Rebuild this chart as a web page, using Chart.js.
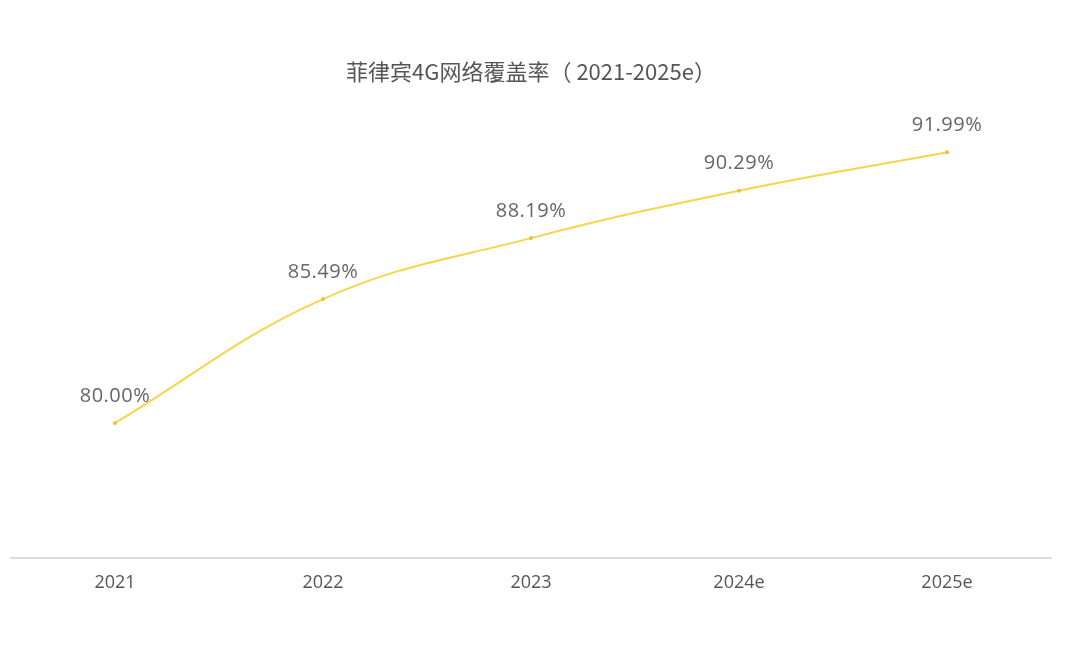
<!DOCTYPE html>
<html>
<head>
<meta charset="utf-8">
<script src="https://cdn.jsdelivr.net/npm/chart.js@4/dist/chart.umd.min.js"></script>
<style>
  html, body { margin: 0; padding: 0; background: #fff; }
  #wrap { width: 1080px; height: 652px; position: relative; }
</style>
</head>
<body>
<div id="wrap"><canvas id="c"></canvas></div>
<script>
const years = ['2021', '2022', '2023', '2024e', '2025e'];
const coverage = [80.00, 85.49, 88.19, 90.29, 91.99];

const FONT = '"Open Sans", "Noto Sans CJK SC", sans-serif';
const TITLE_FONT = '"Noto Sans CJK SC", "Open Sans", sans-serif';

// percentage labels above each point
const valueLabels = {
  id: 'valueLabels',
  afterDatasetsDraw(chart) {
    const ctx = chart.ctx;
    const meta = chart.getDatasetMeta(0);
    ctx.save();
    ctx.font = '20px ' + FONT;
    ctx.letterSpacing = '0.5px';
    ctx.fillStyle = '#666';
    ctx.textAlign = 'center';
    ctx.textBaseline = 'middle';
    meta.data.forEach((pt, i) => {
      ctx.fillText(coverage[i].toFixed(2) + '%', pt.x, pt.y - 27);
    });
    ctx.restore();
  }
};

new Chart(document.getElementById('c'), {
  type: 'line',
  data: {
    labels: years,
    datasets: [{
      data: coverage,
      borderColor: '#f6d54a',
      borderWidth: 2,
      backgroundColor: '#e8c23a',
      pointRadius: 2,
      pointBorderWidth: 0,
      tension: 0.4,
      fill: false,
      clip: false,
    }],
  },
  options: {
    responsive: true,
    maintainAspectRatio: false,
    animation: false,
    layout: { padding: { left: 11, right: 29, top: 0, bottom: 44 } },
    plugins: {
      legend: { display: false },
      tooltip: { enabled: false },
      title: {
        display: true,
        text: '菲律宾4G网络覆盖率（ 2021-2025e）',
        color: '#555',
        font: { family: TITLE_FONT, size: 22, weight: 'normal' },
        padding: { top: 58, bottom: 0 },
      },
    },
    scales: {
      x: {
        offset: true,
        grid: { display: false, drawTicks: false },
        border: { display: true, color: '#dcdcdc', width: 2 },
        ticks: {
          color: '#555',
          padding: 14,
          font: { family: FONT, size: 18 },
        },
      },
      y: {
        display: false,
        min: 74,
        max: 95,
      },
    },
  },
  plugins: [valueLabels],
});
</script>
</body>
</html>
